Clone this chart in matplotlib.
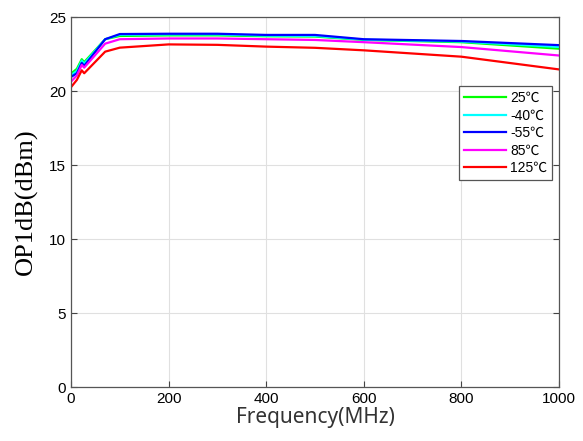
import matplotlib.pyplot as plt

freq = [1, 12, 22, 27, 70, 100, 200, 300, 400, 500, 600, 800, 1000]

op_25 = [21.2, 21.5, 22.15, 21.95, 23.5, 23.72, 23.76, 23.76, 23.7, 23.68, 23.45, 23.3, 22.86]
op_m40 = [21.1, 21.35, 22.05, 21.85, 23.5, 23.8, 23.82, 23.82, 23.74, 23.72, 23.47, 23.34, 22.98]
op_m55 = [20.97, 21.2, 21.9, 21.7, 23.5, 23.85, 23.87, 23.87, 23.79, 23.79, 23.5, 23.38, 23.1]
op_85 = [20.67, 21.05, 21.76, 21.58, 23.2, 23.5, 23.55, 23.55, 23.5, 23.45, 23.3, 22.97, 22.4]
op_125 = [20.3, 20.75, 21.4, 21.2, 22.66, 22.93, 23.15, 23.12, 23.0, 22.92, 22.75, 22.32, 21.46]

series = [
    ("25\u2103", op_25, "#00ff00"),
    ("-40\u2103", op_m40, "#00ffff"),
    ("-55\u2103", op_m55, "#0000ff"),
    ("85\u2103", op_85, "#ff00ff"),
    ("125\u2103", op_125, "#ff0000"),
]

plt.rcParams['font.family'] = ['Liberation Sans', 'Noto Sans CJK SC', 'DejaVu Sans']

fig = plt.figure(figsize=(5.83, 4.41), dpi=100)
ax = fig.add_axes([0.1218, 0.1224, 0.8370, 0.8390])

for name, vals, col in series:
    ax.plot(freq, vals, color=col, lw=1.6, label=name)

ax.set_xlim(0, 1000)
ax.set_ylim(0, 25)
ax.set_xticks(range(0, 1001, 200))
ax.set_yticks(range(0, 26, 5))
ax.grid(True, color="#e0e0e0", lw=0.8)
ax.set_axisbelow(True)
ax.tick_params(direction="in", top=False, right=True, length=4, labelsize=11,
               color="#444444")
for s in ax.spines.values():
    s.set_color("#555555")
    s.set_linewidth(0.9)

ax.set_xlabel("Frequency(MHz)", fontsize=15, family=["Noto Sans", "DejaVu Sans"],
              color="#333333", labelpad=1)
ax.set_ylabel("OP1dB(dBm)", fontsize=19, family=["Liberation Serif", "DejaVu Serif"],
              labelpad=8)

leg = ax.legend(loc="upper right", bbox_to_anchor=(0.986, 0.813), borderaxespad=0,
                handlelength=3.0, handletextpad=0.3, labelspacing=0.25,
                borderpad=0.35, fancybox=False, framealpha=1,
                prop={"family": ["Liberation Sans", "Noto Sans CJK SC"], "size": 10})
leg.get_frame().set_edgecolor("#555555")
leg.get_frame().set_linewidth(0.9)

fig.savefig("out.png", dpi=100)
